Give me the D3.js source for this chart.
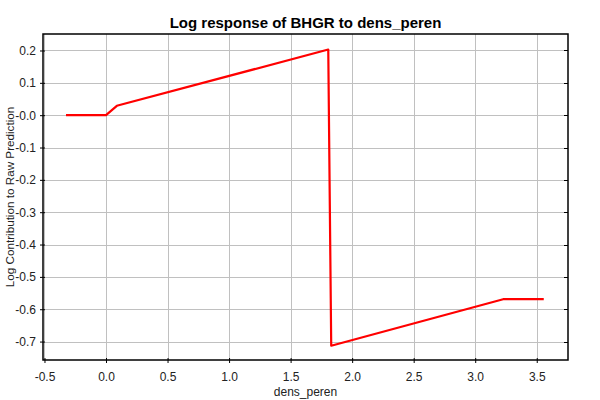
<!DOCTYPE html>
<html>
<head>
<meta charset="utf-8">
<script src="https://cdn.jsdelivr.net/npm/d3@7"></script>
<style>
  html, body { margin: 0; padding: 0; background: #fff; }
  svg { display: block; font-family: "Liberation Sans", Arial, sans-serif; }
</style>
</head>
<body>
<svg id="chart" width="600" height="400"></svg>
<script>
// Data
const densPeren = [-0.325, 0.0, 0.088, 1.806, 1.830, 3.227, 3.557];
const logContribution = [0.0, 0.0, 0.029, 0.203, -0.713, -0.569, -0.569];
const xTickValues = [-0.5, 0.0, 0.5, 1.0, 1.5, 2.0, 2.5, 3.0, 3.5];
const xTickLabels = ["-0.5", "0.0", "0.5", "1.0", "1.5", "2.0", "2.5", "3.0", "3.5"];
const yTickValues = [0.2, 0.1, 0.0, -0.1, -0.2, -0.3, -0.4, -0.5, -0.6, -0.7];
const yTickLabels = ["0.2", "0.1", "-0.0", "-0.1", "-0.2", "-0.3", "-0.4", "-0.5", "-0.6", "-0.7"];
const titleText = "Log response of BHGR to dens_peren";
const xLabelText = "dens_peren";
const yLabelText = "Log Contribution to Raw Prediction";

const svg = d3.select("#chart");
const pLeft = 43, pRight = 568, pTop = 34, pBottom = 360;

const x = d3.scaleLinear().domain([-0.512, 3.754]).range([pLeft, pRight]);
const y = d3.scaleLinear().domain([-0.757, 0.251]).range([pBottom, pTop]);

// gridlines
const grid = svg.append("g");
grid.selectAll("line.vx").data(xTickValues).enter().append("line")
  .attr("x1", d => Math.round(x(d)) + 0.5).attr("x2", d => Math.round(x(d)) + 0.5)
  .attr("y1", pTop).attr("y2", pBottom)
  .attr("stroke", "#c0c0c0").attr("stroke-width", 1);
grid.selectAll("line.hy").data(yTickValues).enter().append("line")
  .attr("y1", d => Math.round(y(d)) + 0.5).attr("y2", d => Math.round(y(d)) + 0.5)
  .attr("x1", pLeft).attr("x2", pRight)
  .attr("stroke", "#c0c0c0").attr("stroke-width", 1);

// data line
const line = d3.line().x((d, i) => x(densPeren[i])).y(d => y(d));
svg.append("path")
  .datum(logContribution)
  .attr("d", line)
  .attr("fill", "none")
  .attr("stroke", "#ff0000")
  .attr("stroke-width", 2.2)
  .attr("stroke-linejoin", "round");

// frame
svg.append("rect")
  .attr("x", pLeft).attr("y", pTop)
  .attr("width", pRight - pLeft).attr("height", pBottom - pTop)
  .attr("fill", "none").attr("stroke", "#000").attr("stroke-width", 1.5);

// axes
const xAxis = d3.axisBottom(x).tickValues(xTickValues)
  .tickFormat((d, i) => xTickLabels[i]).tickSizeInner(4).tickSizeOuter(0).tickPadding(8);
const gx = svg.append("g").attr("transform", `translate(0,${pBottom})`).call(xAxis);
gx.select(".domain").remove();
gx.selectAll(".tick line").attr("y1", -2).attr("y2", 3).attr("stroke", "#000");
gx.selectAll("text").attr("font-size", 12).attr("fill", "#222")
  .attr("font-family", "Liberation Sans, Arial, sans-serif");

const yAxis = d3.axisLeft(y).tickValues(yTickValues)
  .tickFormat((d, i) => yTickLabels[i]).tickSizeInner(4).tickSizeOuter(0).tickPadding(3);
const gy = svg.append("g").attr("transform", `translate(${pLeft},0)`).call(yAxis);
gy.select(".domain").remove();
gy.selectAll(".tick line").attr("x1", -3).attr("x2", 2).attr("stroke", "#000");
gy.selectAll("text").attr("font-size", 12).attr("fill", "#222")
  .attr("font-family", "Liberation Sans, Arial, sans-serif");

// right-side inner ticks
svg.append("g").selectAll("line").data(yTickValues).enter().append("line")
  .attr("x1", pRight - 4).attr("x2", pRight)
  .attr("y1", d => Math.round(y(d)) + 0.5).attr("y2", d => Math.round(y(d)) + 0.5)
  .attr("stroke", "#000");

// title & labels
svg.append("text").attr("x", (pLeft + pRight) / 2).attr("y", 28)
  .attr("text-anchor", "middle").attr("font-size", 15).attr("font-weight", "bold")
  .attr("fill", "#000").text(titleText);
svg.append("text").attr("x", (pLeft + pRight) / 2).attr("y", 396)
  .attr("text-anchor", "middle").attr("font-size", 12).attr("fill", "#222").text(xLabelText);
svg.append("text").attr("transform", `translate(14,${(pTop + pBottom) / 2}) rotate(-90)`)
  .attr("text-anchor", "middle").attr("font-size", 11.7).attr("fill", "#222").text(yLabelText);
</script>
</body>
</html>
